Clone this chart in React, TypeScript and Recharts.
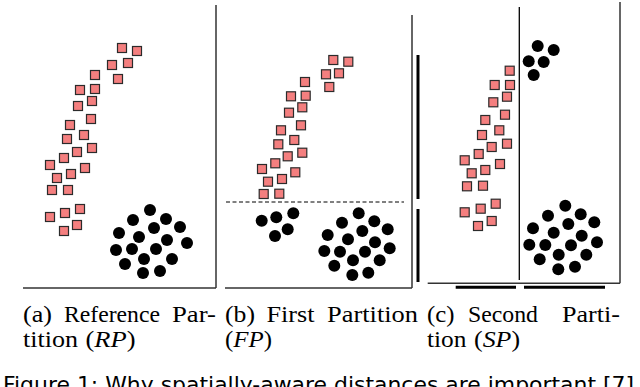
import React from "react";
import { ScatterChart, Scatter, XAxis, YAxis, ReferenceLine } from "recharts";

// Panel (a) Reference Partition — local units: x from panel left, y upward from chart bottom
const aSquares = [
  { x: 122, y: 252 }, { x: 137, y: 249 }, { x: 112, y: 235 }, { x: 128, y: 237 },
  { x: 95, y: 225 }, { x: 118, y: 221 }, { x: 80, y: 210 }, { x: 95, y: 211 },
  { x: 78, y: 194 }, { x: 92, y: 199 }, { x: 91, y: 181 }, { x: 70, y: 175 },
  { x: 67, y: 161 }, { x: 84, y: 165 }, { x: 77, y: 148 }, { x: 92, y: 152 },
  { x: 64, y: 142 }, { x: 50, y: 135 }, { x: 57, y: 122 }, { x: 71, y: 126 },
  { x: 85, y: 132 }, { x: 52, y: 110 }, { x: 68, y: 110 }, { x: 50, y: 83 },
  { x: 65, y: 87 }, { x: 80, y: 91 }, { x: 64, y: 69 }, { x: 77, y: 75 },
];
const aCircles = [
  { x: 150, y: 90 }, { x: 133, y: 80 }, { x: 166, y: 81 }, { x: 180, y: 73 },
  { x: 154, y: 72 }, { x: 119, y: 67 }, { x: 139, y: 63 }, { x: 167, y: 60 },
  { x: 187, y: 57 }, { x: 116, y: 50 }, { x: 132, y: 51 }, { x: 156, y: 51 },
  { x: 144, y: 41 }, { x: 172, y: 41 }, { x: 125, y: 36 }, { x: 143, y: 27 },
  { x: 160, y: 29 },
];

// Panel (b) First Partition
const bSquares = [
  { x: 113.3, y: 240 }, { x: 128.3, y: 238.3 }, { x: 106, y: 225.7 }, { x: 119, y: 226.7 },
  { x: 85, y: 218 }, { x: 109.3, y: 213 }, { x: 71, y: 203.7 }, { x: 85.7, y: 204.3 },
  { x: 82.3, y: 192.7 }, { x: 69, y: 187.3 }, { x: 81, y: 174.7 }, { x: 61, y: 169.7 },
  { x: 74.3, y: 160 }, { x: 58.3, y: 155.7 }, { x: 82.3, y: 147.3 }, { x: 67.7, y: 143.7 },
  { x: 55.3, y: 136.7 }, { x: 42, y: 131 }, { x: 75.3, y: 127.7 }, { x: 62, y: 121 },
  { x: 48, y: 118.3 }, { x: 43.7, y: 106 }, { x: 59.3, y: 106.3 },
];
const bSmallCircles = [
  { x: 41.7, y: 79.3 }, { x: 56.3, y: 82.7 }, { x: 73.3, y: 86.7 }, { x: 67.7, y: 70.7 },
  { x: 55, y: 64 },
];
const bCircles = [
  { x: 138.7, y: 86.7 }, { x: 122, y: 77.3 }, { x: 154.3, y: 78.7 }, { x: 167.7, y: 70.7 },
  { x: 142.3, y: 69 }, { x: 107.7, y: 65 }, { x: 128, y: 60.7 }, { x: 155, y: 57.7 },
  { x: 169.7, y: 51.7 }, { x: 104.3, y: 49 }, { x: 120, y: 48.3 }, { x: 145, y: 48.3 },
  { x: 133, y: 39.7 }, { x: 159.7, y: 39.7 }, { x: 114.3, y: 34.3 }, { x: 132.3, y: 25 },
  { x: 148.3, y: 27.3 },
];

// Panel (c) Second Partition
const cSquares = [
  { x: 84.7, y: 229.3 }, { x: 69.7, y: 215 }, { x: 85, y: 215 }, { x: 82, y: 203.3 },
  { x: 68.3, y: 197.7 }, { x: 80, y: 185.3 }, { x: 60.3, y: 180 }, { x: 74.3, y: 169.7 },
  { x: 57, y: 165 }, { x: 82, y: 156.3 }, { x: 66.7, y: 153 }, { x: 53.7, y: 146 },
  { x: 39.7, y: 139.7 }, { x: 75, y: 136 }, { x: 60.3, y: 130 }, { x: 46.7, y: 126.7 },
  { x: 42, y: 113.7 }, { x: 58, y: 114.3 }, { x: 70.7, y: 96.3 }, { x: 39.7, y: 87.7 },
  { x: 55.7, y: 91.3 }, { x: 53, y: 74 }, { x: 66.7, y: 79 },
];
const cTopCircles = [
  { x: 112.7, y: 254 }, { x: 128.7, y: 250 }, { x: 103.7, y: 238.7 }, { x: 118.7, y: 238 },
  { x: 108.7, y: 225 },
];
const cCircles = [
  { x: 140.3, y: 94.3 }, { x: 123, y: 84.3 }, { x: 155.7, y: 85.7 }, { x: 169.3, y: 77.7 },
  { x: 143.3, y: 76 }, { x: 108, y: 71.7 }, { x: 128.7, y: 67.3 }, { x: 156.7, y: 64.3 },
  { x: 172, y: 57.7 }, { x: 104.3, y: 55.3 }, { x: 120.3, y: 55 }, { x: 146, y: 54.7 },
  { x: 133.7, y: 45.3 }, { x: 161.3, y: 45.3 }, { x: 114.7, y: 40.7 }, { x: 133.3, y: 30.7 },
  { x: 150, y: 33.3 },
];

const H = 300;

const Square = (p: any) => (
  <rect x={p.cx - 4.5} y={p.cy - 4.5} width={9} height={9} fill="#F47F7F" stroke="#2b2b2b" strokeWidth={1.2} />
);
const Dot = (p: any) => <circle cx={p.cx} cy={p.cy} r={6} fill="#000" />;

const LINE = "#333";

const serif = "'Liberation Serif', 'DejaVu Serif', serif";

function Word({ x, y, w, children }: any) {
  return (
    <text x={x} y={y} textLength={w} lengthAdjust="spacingAndGlyphs" fontFamily={serif} fontSize={22.5} fill="#000">
      {children}
    </text>
  );
}

export default function App() {
  const margin = { top: 0, right: 0, bottom: 0, left: 0 };
  return (
    <div style={{ position: "absolute", left: 0, top: 0, width: 640, height: 387, background: "#fff", overflow: "hidden" }}>
      <div style={{ position: "absolute", left: 0, top: 0 }}>
        <ScatterChart width={220} height={H} margin={margin}>
          <XAxis type="number" dataKey="x" domain={[0, 220]} hide />
          <YAxis type="number" dataKey="y" domain={[0, H]} hide />
          <ReferenceLine segment={[{ x: 23, y: 12 }, { x: 216, y: 12 }]} stroke={LINE} strokeWidth={1.5} ifOverflow="visible" />
          <ReferenceLine segment={[{ x: 216, y: 12 }, { x: 216, y: 295 }]} stroke={LINE} strokeWidth={1.5} ifOverflow="visible" />
          <Scatter data={aSquares} shape={Square} isAnimationActive={false} />
          <Scatter data={aCircles} shape={Dot} isAnimationActive={false} />
        </ScatterChart>
      </div>
      <div style={{ position: "absolute", left: 220, top: 0 }}>
        <ScatterChart width={205} height={H} margin={margin}>
          <XAxis type="number" dataKey="x" domain={[0, 205]} hide />
          <YAxis type="number" dataKey="y" domain={[0, H]} hide />
          <ReferenceLine segment={[{ x: 5, y: 12 }, { x: 192, y: 12 }]} stroke={LINE} strokeWidth={1.5} ifOverflow="visible" />
          <ReferenceLine segment={[{ x: 192, y: 12 }, { x: 192, y: 285 }]} stroke={LINE} strokeWidth={1.5} ifOverflow="visible" />
          <ReferenceLine segment={[{ x: 6, y: 98 }, { x: 184, y: 98 }]} stroke="#000" strokeWidth={1} strokeDasharray="4 2.5" ifOverflow="visible" />
          <ReferenceLine segment={[{ x: 198, y: 101 }, { x: 198, y: 245 }]} stroke="#000" strokeWidth={3} ifOverflow="visible" />
          <ReferenceLine segment={[{ x: 198, y: 18 }, { x: 198, y: 91 }]} stroke="#000" strokeWidth={3} ifOverflow="visible" />
          <Scatter data={bSquares} shape={Square} isAnimationActive={false} />
          <Scatter data={bSmallCircles} shape={Dot} isAnimationActive={false} />
          <Scatter data={bCircles} shape={Dot} isAnimationActive={false} />
        </ScatterChart>
      </div>
      <div style={{ position: "absolute", left: 425, top: 0 }}>
        <ScatterChart width={215} height={H} margin={margin}>
          <XAxis type="number" dataKey="x" domain={[0, 215]} hide />
          <YAxis type="number" dataKey="y" domain={[0, H]} hide />
          <ReferenceLine segment={[{ x: 2.7, y: 16.7 }, { x: 195, y: 16.7 }]} stroke={LINE} strokeWidth={1.5} ifOverflow="visible" />
          <ReferenceLine segment={[{ x: 195, y: 16.7 }, { x: 195, y: 298 }]} stroke={LINE} strokeWidth={1.5} ifOverflow="visible" />
          <ReferenceLine segment={[{ x: 94.3, y: 20 }, { x: 94.3, y: 293 }]} stroke="#000" strokeWidth={1.3} ifOverflow="visible" />
          <ReferenceLine segment={[{ x: 30.7, y: 12.7 }, { x: 91, y: 12.7 }]} stroke="#000" strokeWidth={3} ifOverflow="visible" />
          <ReferenceLine segment={[{ x: 99, y: 12.7 }, { x: 180, y: 12.7 }]} stroke="#000" strokeWidth={3} ifOverflow="visible" />
          <Scatter data={cSquares} shape={Square} isAnimationActive={false} />
          <Scatter data={cTopCircles} shape={Dot} isAnimationActive={false} />
          <Scatter data={cCircles} shape={Dot} isAnimationActive={false} />
        </ScatterChart>
      </div>
      <svg width={640} height={387} style={{ position: "absolute", left: 0, top: 0, pointerEvents: "none" }}>
        <Word x={23} y={322} w={29}>(a)</Word>
        <Word x={64} y={322} w={96}>Reference</Word>
        <Word x={172} y={322} w={44}>Par-</Word>
        <Word x={23} y={347} w={55}>tition</Word>
        <Word x={85.5} y={347} w={50}>(<tspan fontStyle="italic">RP</tspan>)</Word>

        <Word x={225} y={322} w={30}>(b)</Word>
        <Word x={266.5} y={322} w={48}>First</Word>
        <Word x={327} y={322} w={91}>Partition</Word>
        <Word x={225} y={347} w={47}>(<tspan fontStyle="italic">FP</tspan>)</Word>

        <Word x={427} y={322} w={27.5}>(c)</Word>
        <Word x={468} y={322} w={70}>Second</Word>
        <Word x={562} y={322} w={58}>Parti-</Word>
        <Word x={427} y={347} w={39.5}>tion</Word>
        <Word x={474} y={347} w={46}>(<tspan fontStyle="italic">SP</tspan>)</Word>

        <text x={3} y={392} textLength={631} lengthAdjust="spacingAndGlyphs" fontFamily="'DejaVu Sans', sans-serif" fontSize={22} fill="#000">
          Figure 1: Why spatially-aware distances are important [7]
        </text>
      </svg>
    </div>
  );
}
